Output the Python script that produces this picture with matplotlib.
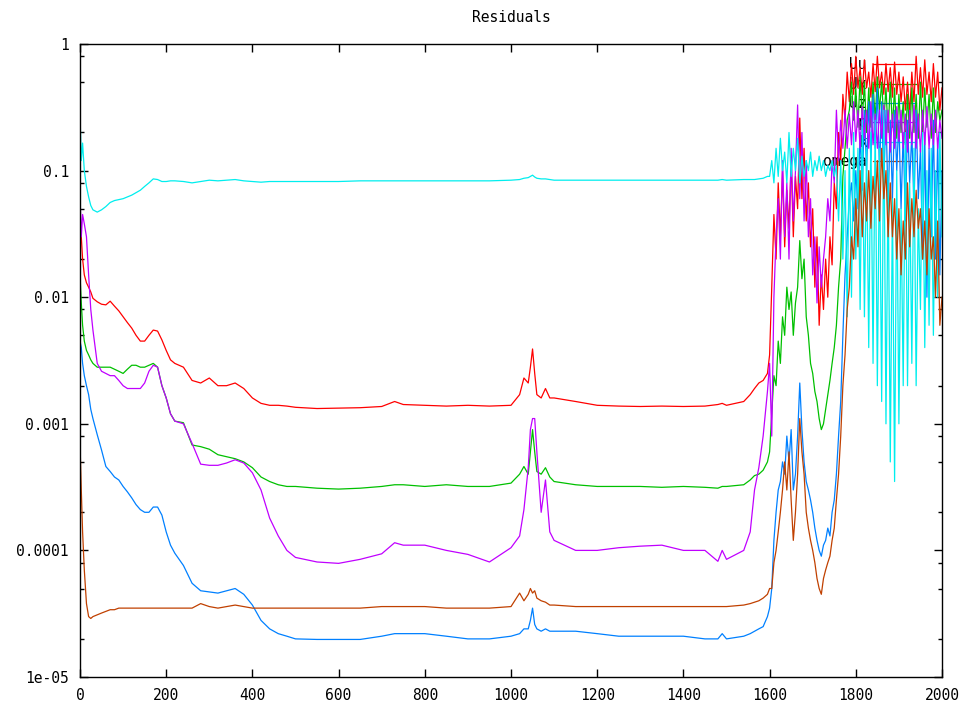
"""residuals plot, gnuplot look"""

import numpy as np
import matplotlib as mpl
mpl.use('Agg')
import matplotlib.pyplot as plt
from matplotlib.ticker import LogLocator, MultipleLocator, NullFormatter, FixedFormatter, FixedLocator

# iterations: hand-read points before the blow-up, then every 5 iters after
iters_early = [0, 3, 6, 10, 15, 20, 25, 30, 40, 50, 60, 70, 80, 90, 100, 110, 120, 130,
               140, 150, 160, 170, 180, 190, 200, 210, 220, 240, 260, 280, 300, 320, 340,
               360, 380, 400, 420, 440, 460, 480, 500, 550, 600, 650, 700, 730, 750, 800,
               850, 900, 950, 1000, 1020, 1030, 1040, 1045, 1050, 1055, 1060, 1070, 1080,
               1090, 1100, 1150, 1200, 1250, 1300, 1350, 1400, 1450, 1480, 1490, 1500,
               1540, 1555, 1565, 1575, 1585, 1595]
iters_late = list(range(1600, 2001, 5))

uu_early = [0.04, 0.03, 0.02, 0.015, 0.013, 0.012, 0.011, 0.0098, 0.0092, 0.0088, 0.0087,
            0.0093, 0.0085, 0.0078, 0.007, 0.0063, 0.0057, 0.005, 0.0045, 0.0045, 0.005,
            0.0055, 0.0054, 0.0046, 0.0038, 0.0032, 0.003, 0.0028, 0.0022, 0.0021, 0.0023,
            0.002, 0.002, 0.0021, 0.0019, 0.0016, 0.00145, 0.0014, 0.0014, 0.00138, 0.00135,
            0.00132, 0.00133, 0.00134, 0.00137, 0.0015, 0.00142, 0.0014, 0.00138, 0.0014,
            0.00138, 0.0014, 0.0017, 0.0023, 0.0021, 0.0028, 0.0039, 0.0025, 0.0017, 0.0016,
            0.0019, 0.0016, 0.0016, 0.0015, 0.0014, 0.00138, 0.00137, 0.00138, 0.00137,
            0.00138, 0.00142, 0.00145, 0.0014, 0.0015, 0.0017, 0.0019, 0.0021, 0.0022, 0.0025]
uu_late = [0.0035, 0.012, 0.045, 0.02, 0.08, 0.03, 0.1, 0.025, 0.07, 0.035, 0.12, 0.03,
           0.09, 0.05, 0.26, 0.06, 0.15, 0.04, 0.08, 0.025, 0.05, 0.012, 0.03, 0.006, 0.015,
           0.008, 0.02, 0.01, 0.03, 0.018, 0.08, 0.05, 0.2, 0.12, 0.4, 0.25, 0.6, 0.35, 0.7,
           0.4, 0.8, 0.45, 0.65, 0.4, 0.75, 0.45, 0.6, 0.38, 0.7, 0.42, 0.8, 0.45, 0.6, 0.4,
           0.7, 0.42, 0.65, 0.38, 0.72, 0.4, 0.6, 0.35, 0.55, 0.3, 0.5, 0.28, 0.6, 0.35, 0.8,
           0.4, 0.65, 0.38, 0.75, 0.4, 0.6, 0.35, 0.7, 0.38, 0.6, 0.3, 0.45]

ux_early = [0.015, 0.009, 0.006, 0.0045, 0.0038, 0.0035, 0.0032, 0.003, 0.0028, 0.0028,
            0.0028, 0.0028, 0.0027, 0.0026, 0.0025, 0.0027, 0.0029, 0.0029, 0.0028, 0.0028,
            0.0029, 0.003, 0.0028, 0.002, 0.0016, 0.0012, 0.00105, 0.00102, 0.00068, 0.00066,
            0.00063, 0.00057, 0.00055, 0.00053, 0.0005, 0.00045, 0.00038, 0.00035, 0.00033,
            0.00032, 0.00032, 0.00031, 0.000305, 0.00031, 0.00032, 0.00033, 0.00033, 0.00032,
            0.00033, 0.00032, 0.00032, 0.00034, 0.0004, 0.00046, 0.0004, 0.0006, 0.0009,
            0.0006, 0.00042, 0.0004, 0.00045, 0.00038, 0.00035, 0.00033, 0.00032, 0.00032,
            0.00032, 0.000315, 0.00032, 0.000315, 0.00031, 0.00032, 0.00032, 0.00033,
            0.00036, 0.00039, 0.0004, 0.00043, 0.0005]
ux_late = [0.0006, 0.0012, 0.0024, 0.002, 0.0045, 0.003, 0.007, 0.005, 0.012, 0.008, 0.011,
           0.005, 0.009, 0.012, 0.028, 0.014, 0.02, 0.007, 0.005, 0.003, 0.0025, 0.0018,
           0.0015, 0.0011, 0.0009, 0.001, 0.0013, 0.0017, 0.0022, 0.003, 0.004, 0.006, 0.012,
           0.02, 0.09, 0.15, 0.25, 0.3, 0.5, 0.25, 0.45, 0.22, 0.55, 0.25, 0.5, 0.2, 0.45,
           0.22, 0.5, 0.25, 0.55, 0.3, 0.5, 0.25, 0.45, 0.2, 0.5, 0.22, 0.45, 0.18, 0.4, 0.2,
           0.35, 0.16, 0.4, 0.18, 0.45, 0.2, 0.4, 0.18, 0.5, 0.2, 0.45, 0.22, 0.4, 0.18, 0.45,
           0.2, 0.35, 0.25, 0.3]

uz_early = [0.0045, 0.004, 0.003, 0.0024, 0.002, 0.0017, 0.0013, 0.0011, 0.00082, 0.00062,
            0.00046, 0.00042, 0.00038, 0.00036, 0.00032, 0.00029, 0.00026, 0.00023, 0.00021,
            0.0002, 0.0002, 0.00022, 0.00022, 0.00019, 0.00014, 0.00011, 0.000095, 0.000076,
            0.000055, 0.000048, 0.000047, 0.000046, 0.000048, 0.00005, 0.000045, 0.000037,
            0.000028, 0.000024, 0.000022, 0.000021, 0.00002, 0.0000198, 0.0000198, 0.0000198,
            0.000021, 0.000022, 0.000022, 0.000022, 0.000021, 0.00002, 0.00002, 0.000021,
            0.000022, 0.000024, 0.000024, 0.000028, 0.000035, 0.000026, 0.000024, 0.000023,
            0.000024, 0.000023, 0.000023, 0.000023, 0.000022, 0.000021, 0.000021, 0.000021,
            0.000021, 0.00002, 0.00002, 0.000022, 0.00002, 0.000021, 0.000022, 0.000023,
            0.000024, 0.000025, 0.00003]
uz_late = [0.000035, 0.00005, 0.00012, 0.0002, 0.0003, 0.00035, 0.0005, 0.0004, 0.0008,
           0.0005, 0.0009, 0.0003, 0.0004, 0.0008, 0.0021, 0.0009, 0.0005, 0.00035, 0.0003,
           0.00025, 0.0002, 0.00015, 0.00012, 0.0001, 0.00009, 0.00011, 0.00012, 0.00015,
           0.00013, 0.0002, 0.00025, 0.0004, 0.0008, 0.0015, 0.005, 0.015, 0.03, 0.06, 0.08,
           0.04, 0.1, 0.05, 0.2, 0.07, 0.3, 0.1, 0.35, 0.12, 0.4, 0.15, 0.45, 0.1, 0.35, 0.08,
           0.3, 0.05, 0.25, 0.06, 0.3, 0.1, 0.25, 0.05, 0.2, 0.04, 0.25, 0.08, 0.2, 0.05, 0.3,
           0.06, 0.15, 0.02, 0.2, 0.01, 0.15, 0.03, 0.25, 0.02, 0.18, 0.015, 0.1]

p_early = [0.065, 0.03, 0.045, 0.038, 0.03, 0.015, 0.008, 0.0055, 0.003, 0.0026, 0.0025,
           0.0024, 0.0024, 0.0022, 0.002, 0.0019, 0.0019, 0.0019, 0.0019, 0.0021, 0.0026,
           0.0029, 0.0028, 0.002, 0.0016, 0.0012, 0.00105, 0.001, 0.0007, 0.00048, 0.00047,
           0.00047, 0.00049, 0.00052, 0.00049, 0.00041, 0.0003, 0.00018, 0.00013, 0.0001,
           0.000088, 0.000081, 0.000079, 0.000085, 0.000094, 0.000115, 0.00011, 0.00011,
           0.0001, 0.000093, 0.000081, 0.000105, 0.00013, 0.00021, 0.00045, 0.0009, 0.0011,
           0.0011, 0.0006, 0.0002, 0.00036, 0.00014, 0.00012, 0.0001, 0.0001, 0.000105,
           0.000108, 0.00011, 0.0001, 0.0001, 0.000082, 0.0001, 0.000085, 0.0001, 0.00014,
           0.0003, 0.00045, 0.0008, 0.0018]
p_late = [0.003, 0.0008, 0.01, 0.03, 0.06, 0.02, 0.12, 0.03, 0.08, 0.02, 0.15, 0.04, 0.1,
          0.33, 0.06, 0.2, 0.04, 0.12, 0.03, 0.06, 0.015, 0.03, 0.009, 0.025, 0.012, 0.02,
          0.03, 0.06, 0.04, 0.12, 0.08, 0.3, 0.12, 0.25, 0.15, 0.3, 0.15, 0.28, 0.16, 0.35,
          0.17, 0.3, 0.15, 0.32, 0.18, 0.3, 0.15, 0.35, 0.16, 0.28, 0.15, 0.3, 0.18, 0.33,
          0.16, 0.3, 0.14, 0.28, 0.15, 0.32, 0.17, 0.3, 0.15, 0.28, 0.14, 0.3, 0.16, 0.33,
          0.15, 0.28, 0.14, 0.3, 0.16, 0.32, 0.15, 0.28, 0.16, 0.3, 0.15, 0.25, 0.18]

k_early = [0.28, 0.12, 0.165, 0.1, 0.075, 0.062, 0.053, 0.049, 0.047, 0.049, 0.052, 0.056,
           0.058, 0.059, 0.06, 0.062, 0.064, 0.067, 0.07, 0.075, 0.08, 0.086, 0.085, 0.082,
           0.082, 0.083, 0.083, 0.082, 0.08, 0.082, 0.084, 0.083, 0.084, 0.085, 0.083, 0.082,
           0.081, 0.082, 0.082, 0.082, 0.082, 0.082, 0.082, 0.083, 0.083, 0.083, 0.083, 0.083,
           0.083, 0.083, 0.083, 0.084, 0.085, 0.087, 0.088, 0.09, 0.092, 0.089, 0.087, 0.086,
           0.086, 0.085, 0.084, 0.084, 0.084, 0.084, 0.084, 0.084, 0.084, 0.084, 0.084, 0.085,
           0.084, 0.085, 0.085, 0.085, 0.086, 0.087, 0.09]
k_late = [0.09, 0.12, 0.08, 0.15, 0.09, 0.18, 0.1, 0.14, 0.08, 0.2, 0.09, 0.15, 0.1, 0.18,
          0.08, 0.13, 0.09, 0.12, 0.1, 0.14, 0.09, 0.12, 0.1, 0.13, 0.1, 0.12, 0.09, 0.11,
          0.1, 0.12, 0.09, 0.11, 0.04, 0.12, 0.02, 0.1, 0.007, 0.15, 0.01, 0.2, 0.02, 0.15,
          0.008, 0.25, 0.007, 0.15, 0.004, 0.2, 0.003, 0.25, 0.002, 0.15, 0.0015, 0.3, 0.001,
          0.1, 0.0005, 0.06, 0.00035, 0.1, 0.001, 0.05, 0.002, 0.2, 0.002, 0.08, 0.003, 0.15,
          0.002, 0.05, 0.008, 0.2, 0.004, 0.1, 0.006, 0.15, 0.005, 0.1, 0.01, 0.2, 0.03]

omega_early = [0.0007, 0.0003, 0.00014, 0.00007, 0.000038, 0.00003, 0.000029, 0.00003,
               0.000031, 0.000032, 0.000033, 0.000034, 0.000034, 0.000035, 0.000035,
               0.000035, 0.000035, 0.000035, 0.000035, 0.000035, 0.000035, 0.000035,
               0.000035, 0.000035, 0.000035, 0.000035, 0.000035, 0.000035, 0.000035,
               0.000038, 0.000036, 0.000035, 0.000036, 0.000037, 0.000036, 0.000035,
               0.000035, 0.000035, 0.000035, 0.000035, 0.000035, 0.000035, 0.000035,
               0.000035, 0.000036, 0.000036, 0.000036, 0.000036, 0.000035, 0.000035,
               0.000035, 0.000036, 0.000046, 0.00004, 0.000045, 0.00005, 0.000046, 0.000048,
               0.000042, 0.00004, 0.000039, 0.000037, 0.000037, 0.000036, 0.000036,
               0.000036, 0.000036, 0.000036, 0.000036, 0.000036, 0.000036, 0.000036,
               0.000036, 0.000037, 0.000038, 0.000039, 0.00004, 0.000042, 0.000045]
omega_late = [0.00005, 0.00005, 0.00008, 0.0001, 0.00014, 0.0002, 0.0003, 0.0005, 0.0003,
              0.0006, 0.00025, 0.00012, 0.0002, 0.0004, 0.0011, 0.0006, 0.0004, 0.0002,
              0.00015, 0.00012, 0.0001, 0.00008, 0.00006, 0.00005, 0.000045, 0.00006,
              0.00007, 0.00008, 0.00009, 0.00012, 0.00015, 0.00025, 0.0004, 0.0008, 0.002,
              0.0035, 0.008, 0.012, 0.03, 0.02, 0.06, 0.025, 0.1, 0.03, 0.08, 0.04, 0.1,
              0.035, 0.09, 0.05, 0.12, 0.04, 0.15, 0.06, 0.1, 0.03, 0.08, 0.03, 0.06, 0.02,
              0.05, 0.015, 0.04, 0.02, 0.08, 0.025, 0.06, 0.03, 0.07, 0.035, 0.05, 0.02, 0.04,
              0.015, 0.05, 0.02, 0.03, 0.01, 0.04, 0.006, 0.01]

series = [
    ('Uu', uu_early, uu_late, '#ff0000'),
    ('Ux', ux_early, ux_late, '#00c000'),
    ('Uz', uz_early, uz_late, '#0080ff'),
    ('p', p_early, p_late, '#c000ff'),
    ('k', k_early, k_late, '#00eeee'),
    ('omega', omega_early, omega_late, '#c04000'),
]

def main() :
    plt.rcParams['font.family'] = 'DejaVu Sans Mono'
    plt.rcParams['font.size'] = 10

    fig = plt.figure(figsize=(9.76, 7.06), dpi=100)
    ax = fig.add_axes([80/976, 1 - 677/706, 862/976, 633/706])

    x = iters_early + iters_late
    for name, early, late, color in series :
        ax.plot(x, early + late, color=color, linewidth=0.9, label=name)

    ax.set_yscale('log')
    ax.set_xlim(0, 2000)
    ax.set_ylim(1e-5, 1)
    ax.xaxis.set_major_locator(MultipleLocator(200))
    ax.yaxis.set_major_locator(FixedLocator([1e-5, 1e-4, 1e-3, 1e-2, 1e-1, 1]))
    ax.yaxis.set_major_formatter(FixedFormatter(['1e-05', '0.0001', '0.001', '0.01', '0.1', '1']))
    ax.yaxis.set_minor_locator(LogLocator(base=10, subs=(2, 5, 8)))
    ax.yaxis.set_minor_formatter(NullFormatter())
    ax.tick_params(which='both', direction='in', top=True, right=True, width=1)
    ax.tick_params(which='major', length=6, pad=8, labelsize=10.5)
    ax.tick_params(which='minor', length=3)
    for s in ax.spines.values() :
        s.set_linewidth(1)

    ax.set_title('Residuals', fontsize=10.5, pad=16)

    leg = ax.legend(loc='upper right', bbox_to_anchor=(0.982, 0.995), markerfirst=False,
                    frameon=False, handlelength=3.0, labelspacing=0.3, borderpad=0.2,
                    handletextpad=0.4, fontsize=10.5)
    leg.set_zorder(1)

    fig.savefig('out.png', dpi=100)

if __name__ == '__main__' :
    main()
